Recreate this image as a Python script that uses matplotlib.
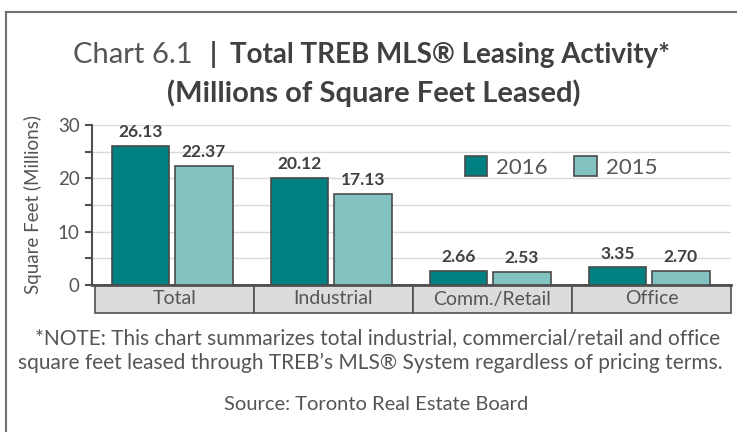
import matplotlib.pyplot as plt
from matplotlib.patches import Rectangle
from matplotlib.lines import Line2D
import matplotlib.transforms as mtransforms

# data
categories = ["Total", "Industrial", "Comm./Retail", "Office"]
vals_2016 = [26.13, 20.12, 2.66, 3.35]
vals_2015 = [22.37, 17.13, 2.53, 2.70]
series_names = ["2016", "2015"]

dark_teal = "#008080"
light_teal = "#82c2c0"
edge = "#4a4a4a"
text_col = "#404040"
soft_col = "#555555"

plt.rcParams["font.family"] = ["Lato", "DejaVu Sans"]

W, H = 737, 432
fig = plt.figure(figsize=(W / 100, H / 100), dpi=100)


def fx(x):
    return x / W


def fy(y):
    return 1 - y / H


# outer frame
fig.add_artist(Line2D([fx(6), fx(6)], [fy(12), 0], color="#707070", lw=1.5))
fig.add_artist(Line2D([fx(6), 1], [fy(12), fy(12)], color="#707070", lw=1.5))

# plot area: x from 92 to 731 px, y=0 at 285 px, y=30 at 125 px
ax = fig.add_axes([fx(92), fy(285), (731 - 92) / W, 160 / H])
ax.set_ylim(0, 30)
pad = 3 / 159
ax.set_xlim(-0.5 - pad, len(categories) - 0.5)

x = list(range(len(categories)))
bw = 0.36
x16 = [i - 0.215 for i in x]
x15 = [i + 0.185 for i in x]
b1 = ax.bar(x16, vals_2016, bw, color=dark_teal, edgecolor=edge, lw=1.2, zorder=3)
b2 = ax.bar(x15, vals_2015, bw, color=light_teal, edgecolor=edge, lw=1.2, zorder=3)

for bars, vals in [(b1, vals_2016), (b2, vals_2015)]:
    for r, v in zip(bars, vals):
        ax.annotate(f"{v:.2f}", (r.get_x() + r.get_width() / 2, v),
                    xytext=(0, 4), textcoords="offset points",
                    ha="center", va="bottom", fontsize=12.5, fontweight="bold",
                    color=text_col)

ax.set_yticks([0, 10, 20, 30])
ax.set_yticks([5, 15, 25], minor=True)
ax.yaxis.grid(True, which="both", color="#dadada", lw=1, zorder=0)
ax.tick_params(axis="y", which="both", length=5, width=1.5, color="#505050",
               labelsize=13.5, labelcolor=soft_col, pad=4)
ax.tick_params(axis="x", length=0, labelbottom=False)
for s in ["top", "right"]:
    ax.spines[s].set_visible(False)
ax.spines["left"].set_color("#505050")
ax.spines["left"].set_linewidth(1.5)
ax.spines["bottom"].set_color("#505050")
ax.spines["bottom"].set_linewidth(2)
ax.set_ylabel("Square Feet (Millions)", fontsize=13.5, color=soft_col,
              labelpad=11)

# category boxes under the axis
trans = mtransforms.blended_transform_factory(ax.transData, ax.transAxes)
box_h = 28 / 160
for i, c in enumerate(categories):
    ax.add_patch(Rectangle((i - 0.5, -box_h), 1, box_h, transform=trans,
                           facecolor="#dcdcde", edgecolor="#505050", lw=1.2,
                           clip_on=False, zorder=2))
    ax.text(i, -box_h / 2, c, transform=trans, ha="center", va="center",
            fontsize=14, color=soft_col)

# legend
handles = [Rectangle((0, 0), 1, 1, facecolor=dark_teal, edgecolor=edge, lw=1.2),
           Rectangle((0, 0), 1, 1, facecolor=light_teal, edgecolor=edge, lw=1.2)]
fig.legend(handles, series_names, loc="center", bbox_to_anchor=(fx(561), fy(167)),
           ncol=2, frameon=False, fontsize=16, handlelength=1.0, handleheight=1.0,
           handletextpad=0.4, columnspacing=1.2, labelcolor=soft_col)

# title
fig.text(fx(193), fy(55), "Chart 6.1", ha="right", va="center", fontsize=21,
         color=soft_col)
fig.text(fx(213), fy(55), "|", ha="center", va="center", fontsize=20,
         fontweight="bold", color=text_col)
fig.text(fx(230), fy(55), "Total TREB MLS® Leasing Activity*", ha="left",
         va="center", fontsize=20, fontweight="bold", color=text_col)
fig.text(fx(374), fy(93), "(Millions of Square Feet Leased)", ha="center",
         va="center", fontsize=21, fontweight="bold", color=text_col)

# notes
fig.text(fx(378), fy(338), "*NOTE: This chart summarizes total industrial, "
         "commercial/retail and office", ha="center", va="center", fontsize=15,
         color=soft_col)
fig.text(fx(370), fy(363), "square feet leased through TREB’s MLS® System "
         "regardless of pricing terms.", ha="center", va="center", fontsize=15,
         color=soft_col)
fig.text(fx(376), fy(405), "Source: Toronto Real Estate Board", ha="center",
         va="center", fontsize=14.5, color=soft_col)

fig.savefig("out.png", dpi=100)
